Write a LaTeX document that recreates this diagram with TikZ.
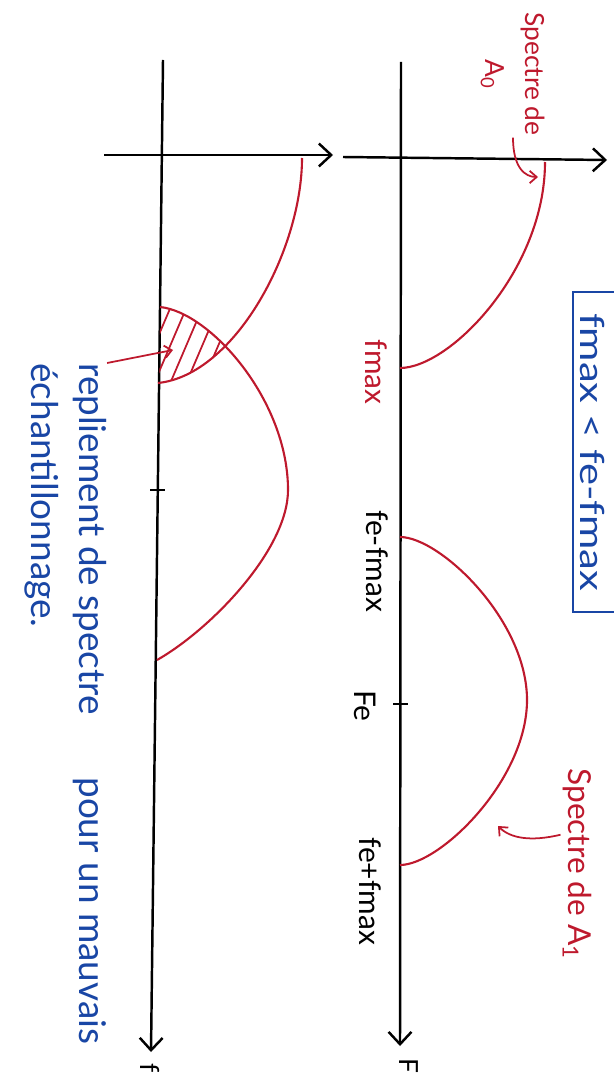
\documentclass[tikz,border=0pt]{standalone}
\usepackage{fontspec}
\setmainfont{Lato}
\usetikzlibrary{arrows.meta, calc}
\definecolor{penred}{RGB}{190,25,45}
\definecolor{penblue}{RGB}{25,70,165}
\tikzset{
  axis/.style={line width=1.4pt,-{Straight Barb[length=7pt,width=13pt]}},
  spec/.style={penred,line width=1.2pt},
  hint/.style={penred,line width=1pt,-{Straight Barb[length=4pt,width=7pt]}},
  tag/.style={rotate=-90,inner sep=1pt,font=\fontsize{17}{20}\selectfont},
  note/.style={rotate=-90,anchor=west,inner sep=0pt,text=penblue,font=\fontsize{21}{24}\selectfont}
}

\begin{document}
\begin{tikzpicture}[x=0.02cm,y=-0.02cm]
\useasboundingbox (0,0) rectangle (614,1084);
% axes
\coordinate (Lt) at (163,60);
\coordinate (Lb) at (151,1052);
\coordinate (Lh) at (104,155);
\coordinate (Lr) at (333,155);
\coordinate (Rt) at (401,62);
\coordinate (Rb) at (400,1046);
\coordinate (Rh) at (343,157);
\coordinate (Rr) at (607,160);
\draw[axis] (Lt) -- (Lb);
\draw[axis] (Lh) -- (Lr);
\draw[axis] (Rt) -- (Rb);
\draw[axis] (Rh) -- (Rr);
\draw[line width=1.4pt] (150,490) -- (165,490);
\draw[line width=1.4pt] (393,704) -- (408,704);

% spectra, good sampling
\draw[spec] (545,162) .. controls (545,270) and (450,368) .. (400,368);
\draw[spec] (400,537) .. controls (440,537) and (527,620) .. (527,700)
  .. controls (527,780) and (440,865) .. (400,865);

% spectra, bad sampling
\draw[spec] (302,158) .. controls (302,250) and (235,375) .. (158,383);
\draw[spec] (160,307) .. controls (210,312) and (288,400) .. (288,490)
  .. controls (288,550) and (210,630) .. (157,660);
\begin{scope}
  \clip (160,155) -- (302,158) .. controls (302,250) and (235,375) .. (158,383) -- cycle;
  \clip (160,307) .. controls (210,312) and (288,400) .. (288,490)
    .. controls (288,550) and (210,630) .. (157,660) -- cycle;
  \foreach \h in {178,194,...,242}
    \draw[spec,line width=1pt] (\h,290) -- ++(-50,117);
\end{scope}

% labels
\node[tag,text=penred] (fmax) at (376,372) {fmax};
\node[tag] (fefm) at (377,561) {fe-fmax};
\node[tag] (fe) at (365,706) {Fe};
\node[tag] (fefp) at (370,891) {fe+fmax};
\node[tag,font=\fontsize{15}{18}\selectfont] (Flbl) at (409,1066) {F};
\node[tag,font=\fontsize{15}{18}\selectfont] (flbl) at (150,1068) {f};

\node[tag,text=penred,align=center,font=\fontsize{15}{23}\selectfont] (a0) at (513,74) {Spectre de\\A\textsubscript{0}};
\draw[hint] (a0.east) .. controls +(0,30) and (525,177) .. (538,177);
\node[tag,text=penred,font=\fontsize{18}{20}\selectfont] (a1) at (577,864) {Spectre de A\textsubscript{1}};
\draw[hint] ($(a1.south west)!0.35!(a1.south east)$) .. controls (530,842) and (510,838) .. (498,826);

\node[rotate=-90,text=penblue,inner sep=0pt,font=\fontsize{19}{22}\selectfont] (cond) at (592,452)
  {\scalebox{1.25}[1]{fmax < fe-fmax}};
\draw[penblue,line width=1.3pt] (640,292) -- (573,292) -- (573,612) -- (640,612);

\node[note] (rep1) at (90,363) {repliement de spectre};
\node[note] (rep2) at (90,777) {pour un mauvais};
\node[note] (rep3) at (42,363) {échantillonnage.};
\draw[hint] (rep1.north west) -- (173,350);
\end{tikzpicture}
\end{document}
